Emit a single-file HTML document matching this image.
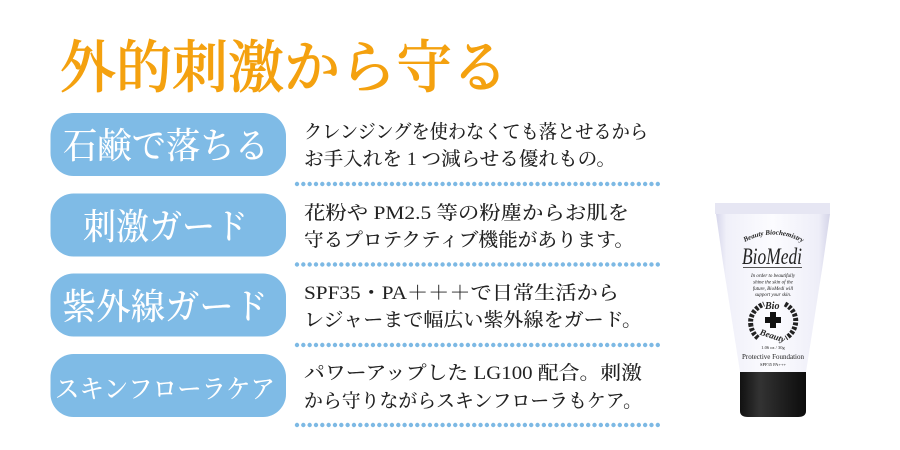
<!DOCTYPE html>
<html lang="ja">
<head>
<meta charset="utf-8">
<style>
html,body{margin:0;padding:0;background:#fff;width:900px;height:450px;overflow:hidden}
svg{display:block}
text{font-family:"Liberation Serif","Noto Serif CJK JP","Noto Serif CJK SC",serif}
.p{fill:#fff;font-size:36px;font-weight:500}
.b{fill:#222;font-size:19px;font-weight:500}
.t{fill:#222}
.dot{stroke:#7db9e4;stroke-width:4.4;stroke-linecap:round;stroke-dasharray:0 6.33;fill:none}
</style>
</head>
<body>
<svg width="900" height="450" viewBox="0 0 900 450" xmlns="http://www.w3.org/2000/svg">
<defs>
<linearGradient id="tube" x1="0" x2="1" y1="0" y2="0">
<stop offset="0" stop-color="#d4d4ea"/><stop offset=".1" stop-color="#f0f0f9"/><stop offset=".5" stop-color="#fcfcff"/><stop offset=".9" stop-color="#eeeef8"/><stop offset="1" stop-color="#d4d4e8"/>
</linearGradient>
<linearGradient id="cap" x1="0" x2="1" y1="0" y2="0">
<stop offset="0" stop-color="#111"/><stop offset=".3" stop-color="#333"/><stop offset=".6" stop-color="#222"/><stop offset="1" stop-color="#0c0c0c"/>
</linearGradient>
</defs>

<text x="60" y="87" font-size="57" fill="#f4a10f" stroke="#f4a10f" stroke-width="0.8" font-weight="500" textLength="448" lengthAdjust="spacingAndGlyphs">外的刺激から守る</text>

<rect x="50.5" y="113" width="235.5" height="63" rx="23" fill="#7fbbe6"/>
<rect x="50.5" y="193.5" width="235.5" height="63" rx="23" fill="#7fbbe6"/>
<rect x="50.5" y="273.5" width="235.5" height="63" rx="23" fill="#7fbbe6"/>
<rect x="50.5" y="354" width="235.5" height="63" rx="23" fill="#7fbbe6"/>

<text class="p" x="63" y="158" textLength="206" lengthAdjust="spacingAndGlyphs">石鹸で落ちる</text>
<text class="p" x="83" y="239" textLength="165" lengthAdjust="spacingAndGlyphs">刺激ガード</text>
<text class="p" x="62" y="319" textLength="206" lengthAdjust="spacingAndGlyphs">紫外線ガード</text>
<text class="p" x="55" y="398" style="font-size:26px" textLength="220" lengthAdjust="spacingAndGlyphs">スキンフローラケア</text>

<text class="b" x="304" y="138" textLength="344" lengthAdjust="spacingAndGlyphs">クレンジングを使わなくても落とせるから</text>
<text class="b" x="304" y="165" textLength="312" lengthAdjust="spacingAndGlyphs">お手入れを 1 つ減らせる優れもの。</text>
<text class="b" x="304" y="219" textLength="325" lengthAdjust="spacingAndGlyphs">花粉や PM2.5 等の粉塵からお肌を</text>
<text class="b" x="304" y="246" textLength="330" lengthAdjust="spacingAndGlyphs">守るプロテクティブ機能があります。</text>
<text class="b" x="304" y="299" textLength="315" lengthAdjust="spacingAndGlyphs">SPF35・PA＋＋＋で日常生活から</text>
<text class="b" x="304" y="326" textLength="338" lengthAdjust="spacingAndGlyphs">レジャーまで幅広い紫外線をガード。</text>
<text class="b" x="304" y="379" textLength="338" lengthAdjust="spacingAndGlyphs">パワーアップした LG100 配合。刺激</text>
<text class="b" x="304" y="407" textLength="338" lengthAdjust="spacingAndGlyphs">から守りながらスキンフローラもケア。</text>

<line class="dot" x1="297" y1="184" x2="658" y2="184"/>
<line class="dot" x1="297" y1="264.5" x2="658" y2="264.5"/>
<line class="dot" x1="297" y1="345" x2="658" y2="345"/>
<line class="dot" x1="297" y1="425" x2="658" y2="425"/>

<path d="M715 204 L830 203 L830 214 L823 263 L806 372 L740 372 L723 263 L716 214 Z" fill="url(#tube)"/>
<rect x="715" y="203" width="115" height="11" fill="#e6e6f3"/>
<path d="M740 372 L806 372 L806 411 Q806 417 798 417 L748 417 Q740 417 740 411 Z" fill="url(#cap)"/>

<path id="arc1" d="M743 243 Q773 226 803 243" fill="none"/>
<text class="t" font-size="7" font-style="italic" font-weight="700"><textPath href="#arc1" startOffset="2">Beauty Biochemistry</textPath></text>
<text class="t" x="742" y="264" font-size="23" font-style="italic" textLength="60" lengthAdjust="spacingAndGlyphs">BioMedi</text>
<rect x="743" y="267" width="59" height="1" fill="#555"/>
<g class="t" font-size="5" font-style="italic" text-anchor="middle">
<text x="773" y="277">In order to beautifully</text>
<text x="773" y="283.5">shine the skin of the</text>
<text x="773" y="290">future, BioMedi will</text>
<text x="773" y="296">support your skin.</text>
</g>
<rect x="770" y="312" width="6" height="16" fill="#111"/>
<rect x="765" y="317" width="16" height="6" fill="#111"/>
<path d="M751 326 A23 20 0 0 1 764 304 M785 304 A23 20 0 0 1 795 326 A23 20 0 0 1 786 338 M758 338 A23 20 0 0 1 751 326" fill="none" stroke="#222" stroke-width="5" stroke-dasharray="3 1.5"/>
<text class="t" x="765" y="309" font-size="10" font-style="italic" font-weight="700">Bio</text>
<text class="t" x="759" y="338" font-size="9" font-style="italic" font-weight="700" transform="rotate(18 770 337)">Beauty</text>
<text class="t" x="773" y="349" font-size="4.5" text-anchor="middle">1.06 oz / 30g</text>
<text class="t" x="773" y="359" font-size="7.5" text-anchor="middle" textLength="62" lengthAdjust="spacingAndGlyphs">Protective Foundation</text>
<text class="t" x="773" y="366" font-size="4.5" text-anchor="middle">SPF35  PA+++</text>
</svg>
</body>
</html>
